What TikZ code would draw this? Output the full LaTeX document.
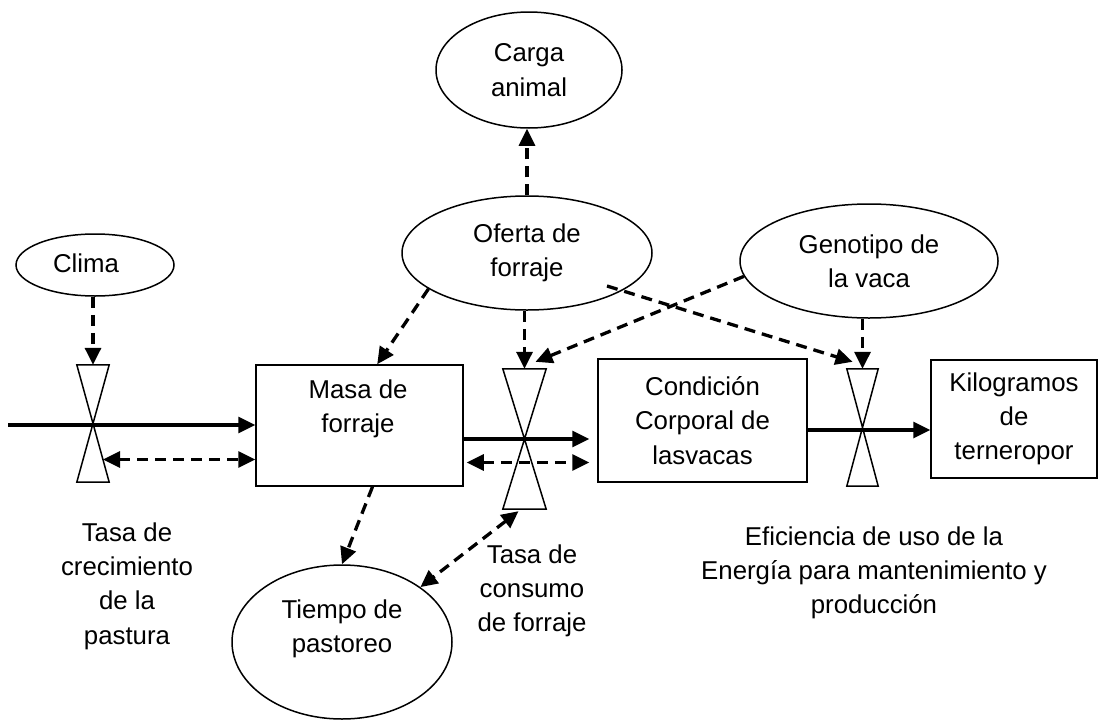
\documentclass[tikz,border=0pt]{standalone}
\usepackage{fontspec}
\setmainfont{Liberation Sans}
\usetikzlibrary{arrows.meta,calc,shapes.geometric}
\begin{document}
\begin{tikzpicture}[x=1pt,y=-1pt,
  every node/.style={font=\fontsize{25.8}{34.3}\selectfont, align=center, inner sep=0pt},
  ell/.style={draw, ellipse, line width=1.5pt},
  boxn/.style={draw, rectangle, line width=1.5pt},
  valve/.style={rectangle, draw=none},
  tip/.style={-{Triangle[length=17pt,width=16pt]}},
  dtip/.style={{Triangle[length=17pt,width=16pt]}-{Triangle[length=17pt,width=16pt]}},
  flow/.style={line width=3.3pt, tip},
  dlink/.style={line width=3.3pt, dash pattern=on 11pt off 7pt, tip},
  dboth/.style={line width=3.3pt, dash pattern=on 11pt off 7pt, dtip},
  vshape/.style={line width=1.5pt, line join=miter}
]
\useasboundingbox (0,0) rectangle (1099,720);

% ellipses
\node[ell, minimum width=186pt, minimum height=116pt] (carga) at (529,70) {Carga\\animal};
\node[ell, minimum width=158pt, minimum height=62pt] (clima) at (95,265) {};
\node at (86,263) {Clima};
\node[ell, minimum width=250pt, minimum height=114pt] (ofe) at (527,253) {Oferta de\\forraje};
\node[ell, minimum width=258pt, minimum height=114pt] (geno) at (869,261) {Genotipo de\\la vaca};
\node[ell, minimum width=220pt, minimum height=154pt] (tiempo) at (342,642) {};
\node at (342,629) {Tiempo de\\pastoreo};

% boxes
\node[boxn, minimum width=207pt, minimum height=121pt] (masa) at (359.5,425.5) {};
\node at (358,409) {Masa de\\forraje};
\node[boxn, minimum width=209pt, minimum height=123pt] (cond) at (702.5,420.5) {Condición\\Corporal de\\lasvacas};
\node[boxn, minimum width=166pt, minimum height=118pt] (kilo) at (1014,419) {Kilogramos\\de\\terneropor};

% valves
\node[valve, minimum width=32pt, minimum height=117pt] (v1) at (93,423.5) {};
\node[valve, minimum width=43pt, minimum height=140pt] (v2) at (524.5,439) {};
\node[valve, minimum width=31pt, minimum height=117pt] (v3) at (862.5,427.5) {};
\foreach \v in {v1,v2,v3}{
  \draw[vshape] (\v.north west) -- (\v.north east) -- (\v.south west) -- (\v.south east) -- cycle;
}

% labels
\node (l1) at (127,586) {Tasa de\\crecimiento\\de la\\pastura};
\node (l2) at (532,591) {Tasa de\\consumo\\de forraje};
\node (l3) at (874,573) {Eficiencia de uso de la\\Energía para mantenimiento y\\producción};

% main flows
\coordinate (src) at (8,425);
\draw[flow] (src) -- (src -| masa.west);
\draw[flow, shorten >=8pt] (v2 -| masa.east) -- (v2 -| cond.west);
\draw[flow] (v3 -| cond.east) ++(0,2.5) coordinate (f3) -- (f3 -| kilo.west);

% dashed two-way links
\coordinate (d1) at ($(v1.center)+(10,36)$);
\draw[dboth] (d1) -- (d1 -| masa.west);
\coordinate (d2) at ($(masa.east)+(3,37)$);
\draw[dboth, shorten >=8pt] (d2) -- (d2 -| cond.west);
\draw[dboth] ($(v2.south)+(-6,2)$) -- (tiempo.35);

% dashed influence links
\draw[dlink] (clima.south -| v1) -- (v1.north);
\draw[dlink] (ofe.north) -- (ofe.north |- carga.south);
\draw[dlink] (ofe.200) -- ($(masa.north west)!0.585!(masa.north east)$);
\draw[dlink] (ofe.south -| v2) -- (v2.north);
\draw[dlink] (geno.187) -- ($(v2.north)+(11,-7)$);
\draw[dlink] ($(ofe.center)+(80,33)$) -- ($(v3.north)+(-10,-7)$);
\draw[dlink] (geno.south -| v3) -- (v3.north);
\draw[dlink] ($(masa.south)+(13,0)$) -- (tiempo.north);
\end{tikzpicture}
\end{document}
